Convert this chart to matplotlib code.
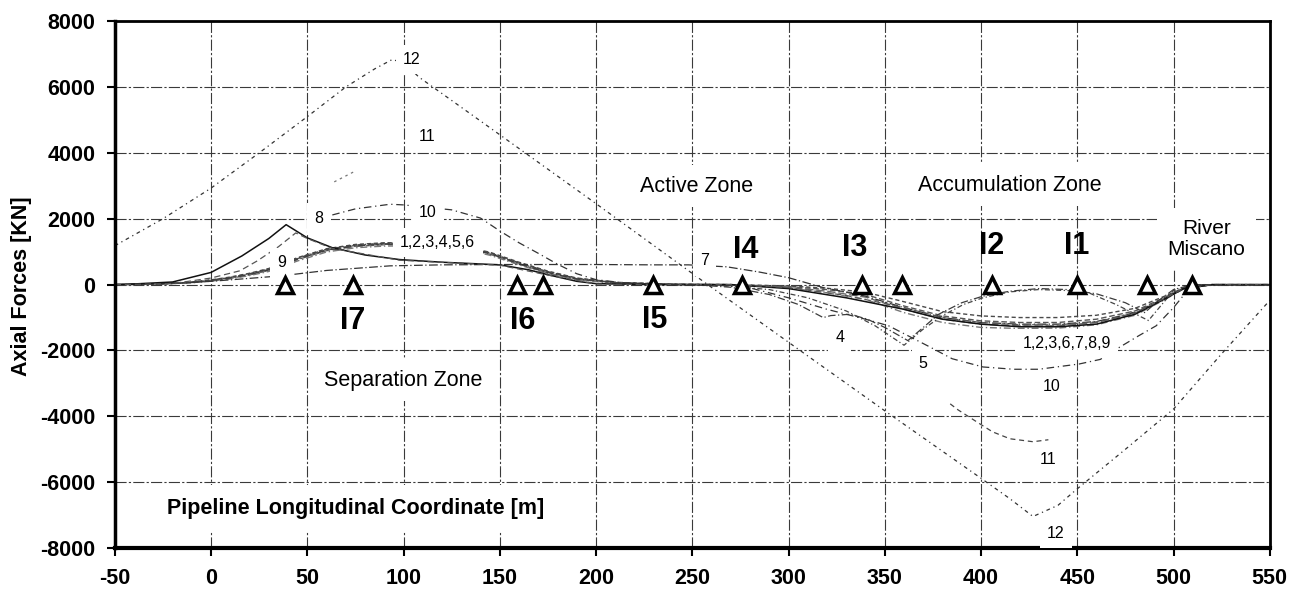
import matplotlib
matplotlib.use('Agg')
import matplotlib.pyplot as plt

plt.rcParams['font.family'] = ['Liberation Sans', 'DejaVu Sans']
plt.rcParams['axes.unicode_minus'] = False

# curves 1,2,3,6 share one abscissa grid
x_bundle = [-50, -30, -10, 0, 10, 20, 30, 45, 60, 75, 90, 110, 130, 145, 160, 175, 190, 210, 240,
            270, 300, 320, 340, 360, 380, 400, 420, 440, 460, 480, 495, 505, 520, 550]
y1 = [0, 15, 70, 130, 210, 320, 460, 790, 1060, 1190, 1240, 1250, 1150, 950, 650, 380, 180, 60, 10,
      0, -60, -150, -300, -650, -950, -1100, -1150, -1150, -1050, -800, -400, -120, 0, 0]
y2 = [0, 12, 60, 115, 190, 295, 430, 760, 1030, 1160, 1210, 1220, 1120, 920, 620, 350, 160, 50, 5,
      0, -80, -200, -380, -750, -1050, -1200, -1250, -1250, -1150, -880, -440, -130, 0, 0]
y3 = [0, 18, 80, 145, 230, 345, 490, 820, 1090, 1220, 1270, 1280, 1180, 980, 680, 410, 200, 70, 12,
      0, -40, -110, -230, -520, -820, -950, -1000, -1000, -930, -720, -360, -110, 0, 0]
y6 = [0, 10, 55, 105, 175, 275, 400, 720, 990, 1120, 1170, 1180, 1090, 890, 600, 330, 150, 45, 5,
      0, -100, -250, -450, -850, -1150, -1300, -1330, -1320, -1220, -930, -470, -140, 0, 0]

x4 = [-50, -30, -10, 0, 10, 20, 30, 45, 60, 75, 90, 110, 130, 145, 160, 175, 190, 210, 230, 250,
      270, 290, 305, 318, 322, 332, 341, 350, 362, 370, 378, 390, 401, 415, 430, 445, 460, 475,
      485, 492, 500, 510, 550]
y4 = [0, 14, 65, 125, 200, 310, 445, 775, 1045, 1175, 1225, 1235, 1135, 935, 635, 365, 170, 55, 15, 0,
      -80, -300, -600, -1000, -940, -900, -1050, -1300, -1700, -1300, -900, -550, -350, -200, -120,
      -150, -280, -550, -850, -500, -150, 0, 0]

x5 = [-50, -30, -10, 0, 10, 20, 30, 45, 60, 75, 90, 110, 130, 145, 160, 175, 190, 210, 240, 260,
      290, 310, 330, 345, 360, 370, 380, 391, 401, 415, 430, 445, 456, 470, 487, 494, 500, 512, 550]
y5 = [0, 16, 75, 138, 220, 332, 475, 805, 1075, 1205, 1255, 1265, 1165, 965, 665, 395, 190, 65, 10, 0,
      -150, -400, -800, -1250, -1840, -1350, -940, -600, -400, -220, -150, -180, -250, -600, -1090,
      -600, -180, 0, 0]

x7 = [-50, -20, 0, 20, 37, 60, 93, 120, 150, 200, 230, 248, 268, 285, 300, 318, 340, 360, 380,
      400, 420, 440, 460, 480, 495, 505, 520, 550]
y7 = [0, 30, 100, 190, 270, 430, 570, 600, 610, 610, 600, 600, 540, 380, 210, -90, -350, -700,
      -1000, -1150, -1200, -1200, -1120, -850, -420, -120, 0, 0]

x8 = [-50, -40, -20, 0, 16, 30, 39, 50, 63, 80, 98, 120, 150, 165, 175, 190, 200, 230, 270, 300,
      330, 360, 380, 400, 420, 440, 460, 480, 495, 505, 520, 550]
y8 = [0, 20, 80, 370, 870, 1400, 1820, 1420, 1120, 900, 760, 680, 600, 450, 300, 100, 30, 0, 0,
      -120, -400, -750, -1050, -1200, -1280, -1280, -1200, -900, -450, -130, 0, 0]

x9 = [-50, -20, 0, 15, 24, 35, 44, 50, 63, 98, 150, 175, 200, 230, 270, 300, 330, 360, 380, 400,
      420, 440, 460, 480, 495, 505, 520, 550]
y9 = [0, 30, 200, 420, 720, 1150, 1570, 1400, 1100, 740, 590, 290, 20, 0, 0, -90, -330, -700,
      -1000, -1150, -1220, -1220, -1130, -860, -430, -125, 0, 0]

x10 = [63, 75, 93, 100, 125, 140, 150, 160, 170, 180, 190, 200, 215, 240, 260, 280, 300, 320, 340,
       352, 362, 373, 385, 401, 417, 430, 451, 462, 472, 482, 491, 500, 507, 515, 550]
y10 = [2115, 2300, 2440, 2420, 2270, 2020, 1630, 1270, 950, 620, 330, 150, 50, 0, 0, -100, -400,
       -750, -1050, -1250, -1550, -1880, -2250, -2500, -2570, -2570, -2410, -2270, -1900, -1550,
       -1250, -700, -200, 0, 0]

x11a = [64, 70, 74]
y11a = [3120, 3300, 3420]
x11b = [384, 388, 400, 406, 415, 427, 435]
y11b = [-3620, -3800, -4250, -4470, -4680, -4770, -4710]

x12 = [-50, -25, 0, 25, 50, 70, 85, 94, 100, 108, 150, 199, 258, 300, 350, 400, 415, 427, 440,
       450, 475, 500, 525, 550]
y12 = [1180, 2000, 2930, 4000, 5100, 6000, 6550, 6830, 6750, 6300, 4550, 2500, 0, -1750, -3830,
       -5880, -6500, -7040, -6700, -6200, -5000, -3780, -2100, -480]

# inclinometer / station markers on the pipeline axis
station_x = [38.3, 73.6, 158.8, 172.3, 229.5, 276, 338, 358.8, 405.6, 450, 486, 509.5]
station_names = ['I7', 'I6', 'I5', 'I4', 'I3', 'I2', 'I1']
station_lx = [73.6, 162, 230.5, 278, 334.4, 405.6, 449.7]
station_ly = [-1090, -1090, -1060, 1060, 1120, 1180, 1180]

curve_labels = ['12', '11', '10', '8', '9', '1,2,3,4,5,6', '7', '4', '5',
                '1,2,3,6,7,8,9', '10', '11', '12']
curve_lx = [104.3, 112, 112.6, 56, 36.8, 117.8, 256.5, 326.6, 370, 444.5, 436.7, 434.7, 438.8]
curve_ly = [6830, 4500, 2175, 2020, 660, 1270, 720, -1600, -2390, -1780, -3080, -5310, -7550]


def main():
    fig = plt.figure(figsize=(12.9, 5.9), dpi=100)
    ax = fig.add_axes([0.089, 0.071, 0.8953, 0.8932])

    ax.plot(x_bundle, y1, color='#555555', lw=1.0, ls=(0, (4, 2)))
    ax.plot(x_bundle, y2, color='#6a6a6a', lw=1.0, ls=(0, (6, 2)))
    ax.plot(x_bundle, y3, color='#4a4a4a', lw=1.0, ls=(0, (3, 2)))
    ax.plot(x_bundle, y6, color='#777777', lw=1.0, ls=(0, (5, 2, 1, 2)))
    ax.plot(x4, y4, color='#3c3c3c', lw=0.9, ls=(0, (6, 2, 1, 2)))
    ax.plot(x5, y5, color='#444444', lw=0.9, ls=(0, (4, 2, 1, 2)))
    ax.plot(x7, y7, color='#333333', lw=0.9, ls=(0, (7, 2, 1, 2)))
    ax.plot(x8, y8, color='#111111', lw=1.1, ls='-')
    ax.plot(x9, y9, color='#555555', lw=0.9, ls=(0, (5, 3)))
    ax.plot(x10, y10, color='#333333', lw=0.9, ls=(0, (6, 3, 1, 3)))
    ax.plot(x11a, y11a, color='#777777', lw=0.9, ls=(0, (2, 3)))
    ax.plot(x11b, y11b, color='#444444', lw=0.9, ls=(0, (4, 3)))
    ax.plot(x12, y12, color='#333333', lw=0.9, ls=(0, (3, 3, 1, 3)))

    ax.plot(station_x, [0] * len(station_x), ls='none', marker='^', ms=12,
            mfc='white', mec='black', mew=2.5, zorder=6)

    for name, sx, sy in zip(station_names, station_lx, station_ly):
        ax.text(sx, sy, name, fontsize=22, fontweight='bold', ha='center', va='center', zorder=7)

    box = dict(boxstyle='square,pad=0.45', fc='white', ec='none')
    for lab, lx, ly in zip(curve_labels, curve_lx, curve_ly):
        ax.text(lx, ly, lab, fontsize=11.5, ha='center', va='center', bbox=box, zorder=5)

    zbox = dict(boxstyle='square,pad=0.5', fc='white', ec='none')
    ax.text(252.3, 2990, 'Active Zone', fontsize=15.5, ha='center', va='center', bbox=zbox, zorder=5)
    ax.text(415, 3020, 'Accumulation Zone', fontsize=15.5, ha='center', va='center', bbox=zbox, zorder=5)
    ax.text(100, -2900, 'Separation Zone', fontsize=15.5, ha='center', va='center', bbox=zbox, zorder=5)
    ax.text(517, 1390, 'River\nMiscano', fontsize=15, ha='center', va='center',
            linespacing=1.15, bbox=zbox, zorder=5)
    ax.text(75.2, -6800, 'Pipeline Longitudinal Coordinate [m]', fontsize=15.5, fontweight='bold',
            ha='center', va='center', bbox=dict(boxstyle='square,pad=0.6', fc='white', ec='none'),
            zorder=5)

    ax.set_xlim(-50, 550)
    ax.set_ylim(-8000, 8000)
    ax.set_xticks(range(-50, 551, 50))
    ax.set_yticks(range(-8000, 8001, 2000))
    ax.grid(True, color='#3a3a3a', lw=0.8, ls=(0, (10, 2, 2, 2)))
    ax.tick_params(direction='out', length=6, width=1.5, pad=8, labelsize=15.5)
    for lab in ax.get_xticklabels() + ax.get_yticklabels():
        lab.set_fontweight('bold')

    for side, lw in [('left', 2.5), ('bottom', 3), ('top', 2), ('right', 2)]:
        ax.spines[side].set_linewidth(lw)
        ax.spines[side].set_color('black')

    fig.text(22 / 1290, 1 - 286 / 590, 'Axial Forces [KN]', rotation=90, fontsize=15.5,
             fontweight='bold', ha='center', va='center')

    fig.savefig('out.png', dpi=100)


if __name__ == '__main__':
    main()
